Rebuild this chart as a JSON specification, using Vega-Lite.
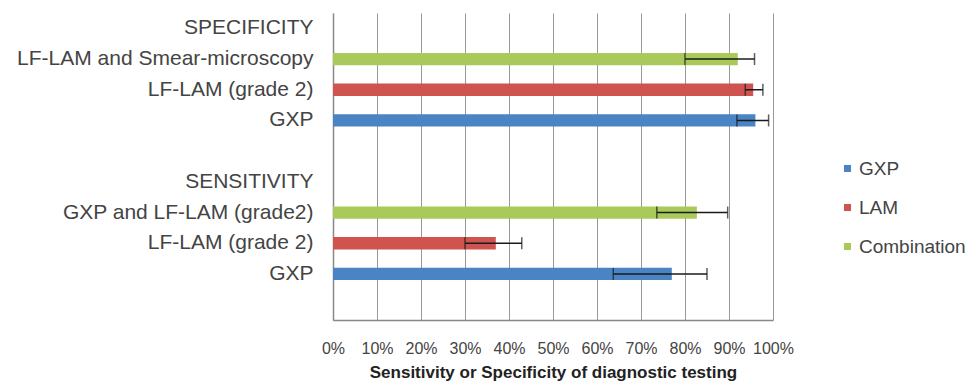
{
  "$schema": "https://vega.github.io/schema/vega-lite/v6.json",
  "width": 440,
  "height": 307,
  "autosize": {"type": "none"},
  "padding": {"left": 333, "top": 13, "right": 200, "bottom": 72},
  "config": {"view": {"stroke": null}, "font": "Liberation Sans"},
  "data": {
    "values": [
      {"row": "s_comb", "series": "Combination", "value": 0.92, "lo": 0.80, "hi": 0.958},
      {"row": "s_lam", "series": "LAM", "value": 0.955, "lo": 0.937, "hi": 0.977},
      {"row": "s_gxp", "series": "GXP", "value": 0.96, "lo": 0.918, "hi": 0.99},
      {"row": "n_comb", "series": "Combination", "value": 0.827, "lo": 0.736, "hi": 0.897},
      {"row": "n_lam", "series": "LAM", "value": 0.37, "lo": 0.30, "hi": 0.429},
      {"row": "n_gxp", "series": "GXP", "value": 0.77, "lo": 0.637, "hi": 0.85}
    ]
  },
  "encoding": {
    "y": {
      "field": "row",
      "type": "nominal",
      "scale": {
        "domain": ["s_head", "s_comb", "s_lam", "s_gxp", "gap1", "n_head", "n_comb", "n_lam", "n_gxp", "gap2"],
        "paddingInner": 0.6,
        "paddingOuter": 0.3
      },
      "axis": {
        "title": null,
        "labelExpr": "datum.value == 's_head' ? 'SPECIFICITY' : datum.value == 's_comb' ? 'LF-LAM and Smear-microscopy' : datum.value == 's_lam' ? 'LF-LAM (grade 2)' : datum.value == 's_gxp' ? 'GXP' : datum.value == 'n_head' ? 'SENSITIVITY' : datum.value == 'n_comb' ? 'GXP and LF-LAM (grade2)' : datum.value == 'n_lam' ? 'LF-LAM (grade 2)' : datum.value == 'n_gxp' ? 'GXP' : ''",
        "labelFontSize": 21,
        "labelColor": "#444444",
        "labelPadding": 20,
        "labelLimit": 0,
        "ticks": false,
        "domainColor": "#888888",
        "domainWidth": 1.5,
        "grid": false
      }
    }
  },
  "layer": [
    {
      "mark": {"type": "bar"},
      "encoding": {
        "x": {
          "field": "value",
          "type": "quantitative",
          "scale": {"domain": [0, 1], "nice": false},
          "axis": {
            "title": "Sensitivity or Specificity of diagnostic testing",
            "titleFontSize": 17,
            "titleFontWeight": "bold",
            "titleColor": "#222222",
            "titlePadding": 8,
            "format": ".0%",
            "values": [0, 0.1, 0.2, 0.3, 0.4, 0.5, 0.6, 0.7, 0.8, 0.9, 1],
            "labelFontSize": 16,
            "labelColor": "#444444",
            "labelPadding": 20,
            "labelOverlap": false,
            "labelFlush": false,
            "ticks": false,
            "domainColor": "#888888",
            "domainWidth": 1.5,
            "grid": true,
            "gridColor": "#999999",
            "gridWidth": 1
          }
        },
        "color": {
          "field": "series",
          "type": "nominal",
          "scale": {"domain": ["GXP", "LAM", "Combination"], "range": ["#4a84c4", "#cf5450", "#a9c95b"]},
          "legend": {
            "title": null,
            "orient": "none",
            "legendX": 505,
            "legendY": 146,
            "symbolType": "square",
            "symbolSize": 50,
            "symbolStrokeWidth": 0,
            "labelFontSize": 19,
            "labelColor": "#444444",
            "labelOffset": 2,
            "rowPadding": 19
          }
        }
      }
    },
    {
      "mark": {"type": "rule", "color": "#1a1a1a", "strokeWidth": 1.5},
      "encoding": {
        "x": {"field": "lo", "type": "quantitative"},
        "x2": {"field": "hi"}
      }
    },
    {
      "mark": {"type": "tick", "color": "#1a1a1a", "thickness": 1.5, "size": 12},
      "encoding": {"x": {"field": "lo", "type": "quantitative"}}
    },
    {
      "mark": {"type": "tick", "color": "#1a1a1a", "thickness": 1.5, "size": 12},
      "encoding": {"x": {"field": "hi", "type": "quantitative"}}
    }
  ]
}
